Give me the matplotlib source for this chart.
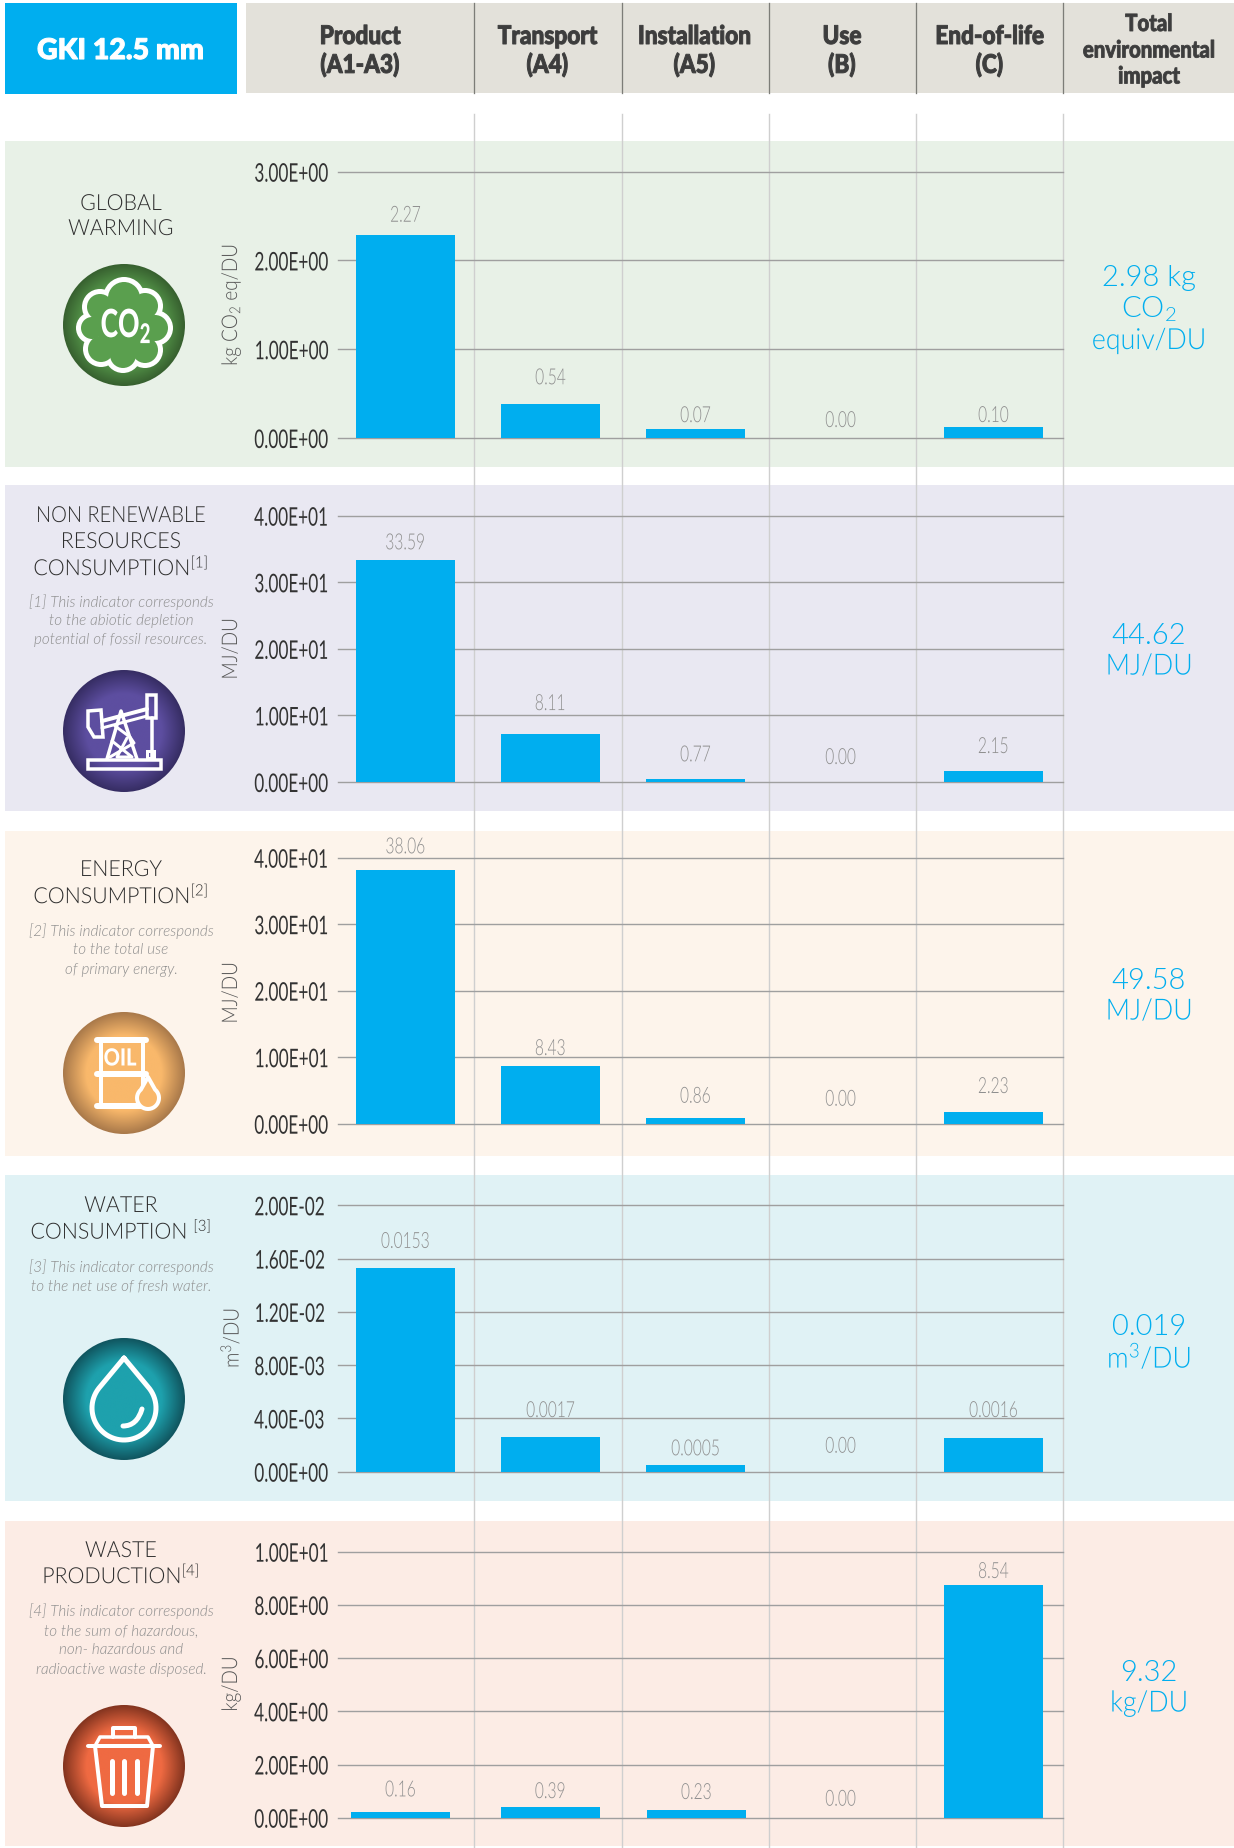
import numpy as np
import matplotlib
matplotlib.use('Agg')
import matplotlib.pyplot as plt
import matplotlib.patheffects as pe
from matplotlib.patches import Circle, Rectangle, Polygon, PathPatch
from matplotlib.path import Path
from matplotlib.transforms import Affine2D

# data
title = 'GKI 12.5 mm'
columns = [['Product', '(A1-A3)'], ['Transport', '(A4)'], ['Installation', '(A5)'],
           ['Use', '(B)'], ['End-of-life', '(C)'], ['Total', 'environmental', 'impact']]

warming_bars = [2.29, 0.38, 0.10, 0.0, 0.124]
warming_labels = ['2.27', '0.54', '0.07', '0.00', '0.10']
warming_ticks = [0, 1, 2, 3]
warming_ticklabels = ['0.00E+00', '1.00E+00', '2.00E+00', '3.00E+00']

resources_bars = [33.3, 7.2, 0.4, 0.0, 1.65]
resources_labels = ['33.59', '8.11', '0.77', '0.00', '2.15']
energy_bars = [38.1, 8.67, 0.9, 0.0, 1.76]
energy_labels = ['38.06', '8.43', '0.86', '0.00', '2.23']
mj_ticks = [0, 10, 20, 30, 40]
mj_ticklabels = ['0.00E+00', '1.00E+01', '2.00E+01', '3.00E+01', '4.00E+01']

water_bars = [0.0153, 0.0026, 0.00048, 0.0, 0.00253]
water_labels = ['0.0153', '0.0017', '0.0005', '0.00', '0.0016']
water_ticks = [0, 0.004, 0.008, 0.012, 0.016, 0.02]
water_ticklabels = ['0.00E+00', '4.00E-03', '8.00E-03', '1.20E-02', '1.60E-02', '2.00E-02']

waste_bars = [0.2, 0.4, 0.29, 0.0, 8.75]
waste_labels = ['0.16', '0.39', '0.23', '0.00', '8.54']
waste_ticks = [0, 2, 4, 6, 8, 10]
waste_ticklabels = ['0.00E+00', '2.00E+00', '4.00E+00', '6.00E+00', '8.00E+00', '1.00E+01']

units = ['kg CO$_2$ eq/DU', 'MJ/DU', 'MJ/DU', 'm$^3$/DU', 'kg/DU']
headings = [['GLOBAL', 'WARMING'],
            ['NON RENEWABLE', 'RESOURCES', 'CONSUMPTION$^{[1]}$'],
            ['ENERGY', 'CONSUMPTION$^{[2]}$'],
            ['WATER', 'CONSUMPTION $^{[3]}$'],
            ['WASTE', 'PRODUCTION$^{[4]}$']]
notes = [[],
         ['[1] This indicator corresponds', 'to the abiotic depletion', 'potential of fossil resources.'],
         ['[2] This indicator corresponds', 'to the total use', 'of primary energy.'],
         ['[3] This indicator corresponds', 'to the net use of fresh water.'],
         ['[4] This indicator corresponds', 'to the sum of hazardous,', 'non- hazardous and', 'radioactive waste disposed.']]
totals = [['2.98 kg', 'CO$_2$', 'equiv/DU'], ['44.62', 'MJ/DU'], ['49.58', 'MJ/DU'],
          ['0.019', 'm$^3$/DU'], ['9.32', 'kg/DU']]

# layout, all in pixels of the 1234x1849 picture
W, H = 1234, 1849
BLUE = '#00aeef'
panel_colors = ['#e8f1e7', '#e9e8f2', '#fdf4eb', '#e0f2f5', '#fcece5']
panel_y = [(142, 468), (486, 812), (832, 1157), (1176, 1502), (1522, 1847)]
axis_y = [(172.7, 439), (516.7, 783), (858.7, 1124.7), (1206.3, 1472.7), (1552.7, 1818.7)]
ylabel_y = [306, 650, 994, 1339, 1685]
heading_y = [[203, 228], [515, 541, 565.5], [869, 893.5], [1205, 1229], [1550, 1573.5]]
note_y = [[], [600, 619, 638], [929, 948, 968], [1265, 1284], [1609, 1629, 1648, 1668]]
total_y = [[276, 307, 340], [634, 665.5], [979, 1010.5], [1325, 1356], [1671, 1702.5]]
icon_y = [326, 732, 1074, 1400, 1767]
# distance from the top of each bar to the middle of its label
label_gap = [[19, 26, 13, 17, 11], [17, 30, 24, 24, 24], [23, 17, 21, 24, 25],
             [26, 26, 16, 25, 27], [22, 15, 17, 18, 13]]
# columns are not quite evenly spaced
slots = [[0, 1, 2, 3, 4.055]] * 4 + [[-0.034, 1, 2.007, 3, 4.055]]
seps = [474, 621.5, 769, 916, 1063]
AX_L, AX_R = 338, 1063


class Squeeze(pe.AbstractPathEffect):
    # narrows a text sideways, none of the installed fonts is condensed.
    # stroke thickens it a bit, Lato black is still lighter than the original
    def __init__(self, sx, anchor=0.5, stroke=0):
        self.sx = sx
        self.anchor = anchor
        self.stroke = stroke

    def draw_path(self, renderer, gc, tpath, affine, rgbFace=None):
        ext = tpath.get_extents()
        x0 = ext.x0 + self.anchor * ext.width
        t = Affine2D().translate(-x0, 0).scale(self.sx, 1).translate(x0, 0) + affine
        gc0 = renderer.new_gc()
        gc0.copy_properties(gc)
        if self.stroke:
            gc0.set_foreground(rgbFace)
            gc0.set_linewidth(self.stroke)
        renderer.draw_path(gc0, tpath, t, rgbFace)
        gc0.restore()


def px(v):
    return v * 0.72


plt.rcParams['font.family'] = 'Lato'
plt.rcParams['mathtext.fontset'] = 'custom'
plt.rcParams['mathtext.rm'] = 'Lato:weight=300'
plt.rcParams['mathtext.it'] = 'Lato:weight=300'
plt.rcParams['mathtext.default'] = 'regular'

fig = plt.figure(figsize=(W / 100, H / 100), dpi=100)
bg = fig.add_axes([0, 0, 1, 1], zorder=0)
top = fig.add_axes([0, 0, 1, 1], zorder=5)
top.patch.set_alpha(0)
for a in (bg, top):
    a.axis('off')


def ptext(x, y, s, size, color, squeeze=1.0, stroke=0, **kw):
    t = top.text(x, y + 2, s, fontsize=size, color=color, ha='center', va='center', **kw)
    if squeeze != 1.0 or stroke:
        t.set_path_effects([Squeeze(squeeze, stroke=stroke)])
    return t


def gradient_disc(cy, inner, outer):
    n = 200
    yy, xx = np.mgrid[-1:1:n * 1j, -1:1:n * 1j]
    r = np.clip((np.hypot(xx, yy) - 0.62) / 0.38, 0, 1)[..., None]
    img = np.array(matplotlib.colors.to_rgb(inner)) * (1 - r) + np.array(matplotlib.colors.to_rgb(outer)) * r
    im = top.imshow(img, extent=(124 - 61, 124 + 61, cy + 61, cy - 61), zorder=1, aspect='auto')
    im.set_clip_path(Circle((124, cy), 61, transform=top.transData))


def line(cy, xs, ys, lw=4, color='white', **kw):
    top.plot(124 + np.array(xs), cy + np.array(ys), color=color, lw=px(lw), zorder=3,
             solid_capstyle='round', solid_joinstyle='round', **kw)


def co2_icon(cy):
    c = '#5a9f4e'
    gradient_disc(cy, c, '#37602f')
    lobes = [(0, -27, 16), (21, -19, 13), (31, 3, 13), (21, 25, 13), (-1, 30, 13),
             (-23, 24, 13), (-32, 3, 11), (-24, -18, 13)]
    for x, y, r in lobes:
        top.add_patch(Circle((124 + x, cy + y), r + 5, fc='white', ec='none', zorder=2))
    for x, y, r in lobes:
        top.add_patch(Circle((124 + x, cy + y), r, fc=c, ec='none', zorder=2.1))
    top.add_patch(Circle((124, cy), 28, fc=c, ec='none', zorder=2.1))
    ptext(124 + 2, cy - 1, 'CO$_2$', 28, 'white', squeeze=0.68, fontweight=900, zorder=4)


def pump_icon(cy):
    c = '#5d4ea0'
    gradient_disc(cy, c, '#362d63')
    top.add_patch(Rectangle((124 - 36, cy + 29), 73, 9, fc='none', ec='white', lw=px(3.5), zorder=3))
    top.add_patch(Polygon([(124 - 36, cy - 20), (124 - 23, cy - 21), (124 - 21, cy + 6),
                           (124 - 30, cy + 6), (124 - 36, cy - 4)], fc='none', ec='white', lw=px(3.5), zorder=3))
    line(cy, [-22, 23], [-10, -22], lw=4)
    line(cy, [-22, 23], [-3, -15], lw=3)
    top.add_patch(Rectangle((124 + 23, cy - 36), 9, 23, fc='none', ec='white', lw=px(3.5), zorder=3))
    line(cy, [28, 28], [-13, 28], lw=3.5)
    top.add_patch(Rectangle((124 + 23, cy + 20), 7, 7, fc='none', ec='white', lw=px(3), zorder=3))
    line(cy, [-17, -3, 13], [28, -20, 28], lw=3.5)
    line(cy, [-12, 8, -7, 3], [10, 26, 26, 7], lw=3)
    line(cy, [-9, 6, 10, -14], [-5, 6, 12, 26], lw=3)


def barrel_icon(cy):
    c = '#f9b86b'
    gradient_disc(cy, c, '#a9794a')
    for y in (-33, 1, 33):
        line(cy, [-27, 22], [y, y], lw=6)
    line(cy, [-23, -23], [-33, 33], lw=4)
    line(cy, [19, 19], [-33, 33], lw=4)
    ptext(124 - 4, cy - 17, 'OIL', 17, 'white', squeeze=0.85, fontweight=900, zorder=4)
    t = np.radians(np.arange(-50, 231, 10))
    dx = 24 + 11 * np.cos(t)
    dy = 25 + 11 * np.sin(t)
    xs = np.r_[24, dx, 24]
    ys = np.r_[4, dy, 4]
    top.add_patch(Polygon(np.c_[124 + xs, cy + ys], fc=c, ec='white', lw=px(4), zorder=3.5, joinstyle='round'))


def drop_icon(cy):
    gradient_disc(cy, '#1ea1ad', '#10555f')
    t = np.radians(np.arange(-42, 223, 5))
    xs = np.r_[0, 32 * np.cos(t), 0]
    ys = np.r_[-41, 9 + 32 * np.sin(t), -41]
    line(cy, xs, ys, lw=5)
    verts = [(124 - 1, cy + 27), (124 + 13, cy + 27), (124 + 18, cy + 10)]
    top.add_patch(PathPatch(Path(verts, [Path.MOVETO, Path.CURVE3, Path.CURVE3]), fc='none',
                            ec='white', lw=px(5), capstyle='round', zorder=3))


def bin_icon(cy):
    gradient_disc(cy, '#ef6a42', '#83341f')
    line(cy, [-36, 36], [-20, -20], lw=4)
    line(cy, [-29, -24, 24, 29], [-20, -29, -29, -20], lw=3.5)
    line(cy, [-11, -11, 11, 11], [-29, -38, -38, -29], lw=4)
    line(cy, [-29, -22, 23, 29], [-20, 40, 40, -20], lw=4)
    for x in (-12, 0, 13):
        line(cy, [x, x], [-5, 27], lw=5)


# backgrounds and column rules
bg.add_patch(Rectangle((5, 4), 232, 91, fc=BLUE, ec='none'))
bg.add_patch(Rectangle((246, 4), W - 246, 90, fc='#e3e1da', ec='none'))
for (y0, y1), col in zip(panel_y, panel_colors):
    bg.add_patch(Rectangle((5, y0), W - 5, y1 - y0, fc=col, ec='none'))
for x in seps:
    bg.plot([x, x], [4, 94], color='#7d7d78', lw=px(1.3))
    bg.plot([x, x], [115, H], color='#cfcfcf', lw=px(1.4))
bg.set_xlim(0, W)
bg.set_ylim(H, 0)

# header
ptext(120.5, 50, title, 20.5, 'white', stroke=0.8, fontweight=900)
col_x = [360, 547.5, 694.5, 842, 989.5]
for x, lines in zip(col_x, columns):
    ptext(x, 35, lines[0], 18.5, '#3d3d3d', squeeze=0.88, stroke=0.7, fontweight=900)
    ptext(x, 63.5, lines[1], 18.5, '#3d3d3d', squeeze=0.88, stroke=0.7, fontweight=900)
for y, s in zip([22.5, 49, 75], columns[5]):
    ptext(1149, y, s, 17, '#3d3d3d', squeeze=0.86, stroke=0.6, fontweight=900)

# charts
all_bars = [warming_bars, resources_bars, energy_bars, water_bars, waste_bars]
all_labels = [warming_labels, resources_labels, energy_labels, water_labels, waste_labels]
all_ticks = [warming_ticks, mj_ticks, mj_ticks, water_ticks, waste_ticks]
all_ticklabels = [warming_ticklabels, mj_ticklabels, mj_ticklabels, water_ticklabels, waste_ticklabels]

for i in range(5):
    y_top, y_zero = axis_y[i]
    ax = fig.add_axes([AX_L / W, 1 - y_zero / H, (AX_R - AX_L) / W, (y_zero - y_top) / H], zorder=2)
    ax.patch.set_alpha(0)
    ax.bar(slots[i], all_bars[i], width=0.683, color=BLUE, zorder=3)
    ax.set_xlim((AX_L - 405.4) / 145, (AX_R - 405.4) / 145)
    ax.set_ylim(0, all_ticks[i][-1])
    ax.set_yticks(all_ticks[i])
    ax.set_yticklabels(all_ticklabels[i], fontsize=18.5, color='#333333')
    ax.set_xticks([])
    ax.tick_params(axis='y', length=0, pad=px(AX_L - 254))
    for lab in ax.get_yticklabels():
        lab.set_ha('left')
        lab.set_path_effects([Squeeze(0.67, anchor=0)])
    ax.grid(axis='y', color='#9f9f9f', lw=px(1.4), zorder=1)
    ax.set_axisbelow(True)
    for g in ax.get_ygridlines():
        g.set_clip_on(False)
    for s in ax.spines.values():
        s.set_visible(False)
    yl = ax.set_ylabel(units[i], fontsize=15.5, color='#555555', fontweight=300, va='center')
    ax.yaxis.set_label_coords((231 - AX_L) / (AX_R - AX_L), (y_zero - ylabel_y[i]) / (y_zero - y_top))
    yl.set_path_effects([Squeeze(0.88)])
    for x, h, s, gap in zip(slots[i], all_bars[i], all_labels[i], label_gap[i]):
        t = ax.annotate(s, (x, h), xytext=(0, px(gap)), textcoords='offset points', ha='center', va='center',
                        fontsize=16, color='#8f8f8f', fontweight=300, annotation_clip=False)
        t.set_path_effects([Squeeze(0.7)])

# left column and totals
for i in range(5):
    for y, s in zip(heading_y[i], headings[i]):
        sq = 0.9 if s.startswith('NON') else 0.96
        ptext(121, y, s, 16, '#2e2e2e', squeeze=sq, fontweight=300)
    for y, s in zip(note_y[i], notes[i]):
        ptext(121, y, s, 11, '#8c8c8c', fontstyle='italic', fontweight=300)
    for y, s in zip(total_y[i], totals[i]):
        ptext(1149, y, s, 21, BLUE, squeeze=0.92 if '/' in s else 1.0, fontweight=300)

co2_icon(icon_y[0])
pump_icon(icon_y[1])
barrel_icon(icon_y[2])
drop_icon(icon_y[3])
bin_icon(icon_y[4])
top.set_xlim(0, W)
top.set_ylim(H, 0)

fig.savefig('out.png', dpi=100)
